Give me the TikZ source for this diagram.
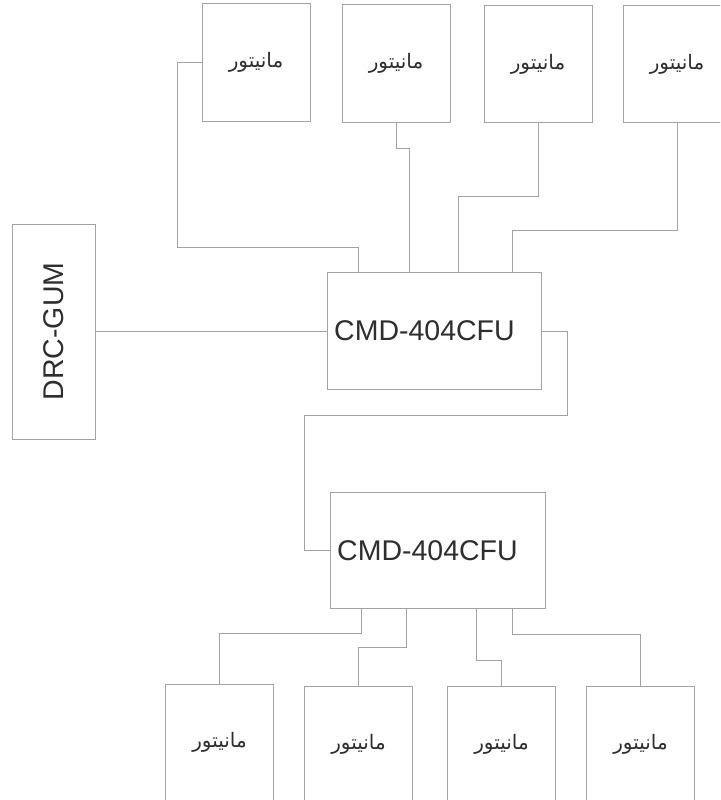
\documentclass[tikz,border=0pt]{standalone}
\usepackage{fontspec}
\setmainfont{Liberation Sans}
\newfontfamily\arabicfont[Script=Arabic]{DejaVu Sans}
\TeXXeTstate=1
\begin{document}
\begin{tikzpicture}[x=1pt,y=-1pt,
  box/.style={draw=linegray,line width=1pt,fill=white,inner sep=0pt},
  montxt/.style={font=\arabicfont\fontsize{20}{22}\selectfont,text=txtgray,inner sep=0pt},
  mon/.style={box,minimum width=108pt,minimum height=117pt,montxt},
  wire/.style={draw=linegray,line width=1pt},
  lbl/.style={font=\fontsize{28.5}{30}\selectfont,text=txtgray,inner sep=0pt}]
\definecolor{linegray}{HTML}{A3A3A3}
\definecolor{txtgray}{HTML}{2E2E2E}
\useasboundingbox[fill=white] (0,0) rectangle (720,800);
\clip (0,0) rectangle (720,800);
% top monitors
\node[mon] (m1) at (256,62.5) {\beginR مانیتور\endR};
\node[mon] (m2) at (396,63.5) {\beginR مانیتور\endR};
\node[mon] (m3) at (538,64) {\beginR مانیتور\endR};
\node[box,minimum width=140pt,minimum height=117pt] (m4) at (693,64) {};
\node[montxt] (m4t) at (677,64) {\beginR مانیتور\endR};
% controllers
\node[box,minimum width=214pt,minimum height=117pt] (c1) at (434,330.5) {};
\node[lbl,anchor=west] (c1t) at (334,331) {CMD-404CFU};
\node[box,minimum width=215pt,minimum height=116pt] (c2) at (437.5,550) {};
\node[lbl,anchor=west] (c2t) at (337,551) {CMD-404CFU};
\node[box,minimum width=83pt,minimum height=215pt] (drc) at (53.5,331.5) {};
\node[lbl,rotate=90] (drct) at (54,331.5) {DRC-GUM};
% bottom monitors
\node[mon] (b1) at (219.5,742.5) {\beginR مانیتور\endR};
\node[mon] (b2) at (358.5,744.5) {\beginR مانیتور\endR};
\node[mon] (b3) at (501.5,744.5) {\beginR مانیتور\endR};
\node[mon] (b4) at (640.5,744.5) {\beginR مانیتور\endR};
% top wiring
\draw[wire] (m1.west) -- (177,62.5) -- (177,247) -- (358,247) -- (c1.north -| 358,0);
\draw[wire] (m2.south) -- (396,148) -- (409,148) -- (c1.north -| 409,0);
\draw[wire] (m3.south) -- (538,196) -- (458,196) -- (c1.north -| 458,0);
\draw[wire] (m4.south -| 677,0) -- (677,230) -- (512,230) -- (c1.north -| 512,0);
% DRC to CMD1
\draw[wire] (drc.east |- 0,331) -- (c1.west |- 0,331);
% CMD1 to CMD2
\draw[wire] (c1.east |- 0,331) -- (567,331) -- (567,415) -- (304,415) -- (304,550) -- (c2.west);
% bottom wiring
\draw[wire] (c2.south -| 361,0) -- (361,633) -- (219.5,633) -- (b1.north);
\draw[wire] (c2.south -| 406,0) -- (406,647) -- (358.5,647) -- (b2.north);
\draw[wire] (c2.south -| 476,0) -- (476,660) -- (501.5,660) -- (b3.north);
\draw[wire] (c2.south -| 512,0) -- (512,634) -- (640.5,634) -- (b4.north);
\end{tikzpicture}
\end{document}
